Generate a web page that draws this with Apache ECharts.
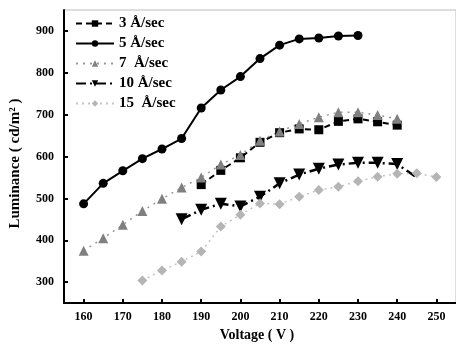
<!DOCTYPE html>
<html>
<head>
<meta charset="utf-8">
<script src="https://cdn.jsdelivr.net/npm/echarts@6/dist/echarts.min.js"></script>
<style>
  html, body {margin: 0; padding: 0; background: #fff;}
  #chart {width: 456px; height: 347px;}
</style>
</head>
<body>
<div id="chart"></div>
<script>
// tick labels
var xTicks = [160, 170, 180, 190, 200, 210, 220, 230, 240, 250];
var yTicks = [300, 400, 500, 600, 700, 800, 900];

// series names
var names = ['3 Å/sec', '5 Å/sec', '7  Å/sec', '10 Å/sec', '15  Å/sec'];

// voltages (V) and luminance (cd/m2) per deposition rate
var volt3 = [190, 195, 200, 205, 210, 215, 220, 225, 230, 235, 240];
var lum3 = [533, 567, 597, 634, 657, 666, 664, 684, 690, 683, 675];

var volt5 = [160, 165, 170, 175, 180, 185, 190, 195, 200, 205, 210, 215, 220, 225, 230];
var lum5 = [487, 536, 566, 595, 618, 643, 716, 759, 791, 834, 866, 881, 883, 888, 889];

var volt7 = [160, 165, 170, 175, 180, 185, 190, 195, 200, 205, 210, 215, 220, 225, 230, 235, 240];
var lum7 = [375, 405, 437, 470, 499, 526, 550, 581, 604, 638, 660, 678, 694, 706, 706, 699, 690];

var volt10 = [185, 190, 195, 200, 205, 210, 215, 220, 225, 230, 235, 240, 245];
var lum10 = [450, 473, 487, 481, 504, 536, 557, 571, 581, 585, 585, 582, 550];

var volt15 = [175, 180, 185, 190, 195, 200, 205, 210, 215, 220, 225, 230, 235, 240, 245, 250];
var lum15 = [304, 328, 349, 373, 433, 461, 488, 486, 504, 520, 528, 541, 552, 559, 560, 551];

function pairs(xs, ys) {
  return xs.map(function (x, i) { return [x, ys[i]]; });
}

var font = 'Liberation Serif';

var chart = echarts.init(document.getElementById('chart'));
chart.setOption({
  animation: false,
  backgroundColor: '#fff',
  textStyle: {fontFamily: font},
  grid: {
    left: 62, top: 10, width: 397, height: 296,
    show: true, borderColor: '#bbb', borderWidth: 1
  },
  legend: {
    orient: 'vertical',
    left: 70, top: 11,
    itemWidth: 38, itemHeight: 8, itemGap: 5,
    textStyle: {fontFamily: font, fontWeight: 'bold', fontSize: 15, color: '#000'},
    data: names
  },
  xAxis: {
    type: 'value',
    min: 155, max: 255,
    name: 'Voltage ( V )',
    nameLocation: 'middle',
    nameGap: 20,
    nameTextStyle: {fontFamily: font, fontWeight: 'bold', fontSize: 14, color: '#000',
      padding: [0, 0, 0, -6]},
    axisLine: {lineStyle: {color: '#000', width: 2}},
    axisTick: {inside: true, length: 4, lineStyle: {color: '#000', width: 2}, customValues: xTicks},
    axisLabel: {fontFamily: font, fontWeight: 'bold', fontSize: 12, color: '#000', margin: 8, customValues: xTicks},
    splitLine: {show: false}
  },
  yAxis: {
    type: 'value',
    min: 250, max: 950,
    name: 'Luminance ( cd/m² )',
    nameLocation: 'middle',
    nameGap: 41,
    nameTextStyle: {fontFamily: font, fontWeight: 'bold', fontSize: 15, color: '#000',
      padding: [0, 0, 0, -14]},
    axisLine: {show: true, lineStyle: {color: '#000', width: 2}},
    axisTick: {show: true, inside: true, length: 4, lineStyle: {color: '#000', width: 2}, customValues: yTicks},
    axisLabel: {fontFamily: font, fontWeight: 'bold', fontSize: 12, color: '#000', margin: 10, customValues: yTicks},
    splitLine: {show: false}
  },
  series: [
    {
      name: names[0], type: 'line', data: pairs(volt3, lum3),
      symbol: 'rect', symbolSize: 9,
      itemStyle: {color: '#000'},
      lineStyle: {color: '#000', width: 2, type: [6, 4]}
    },
    {
      name: names[1], type: 'line', data: pairs(volt5, lum5),
      symbol: 'circle', symbolSize: 9,
      itemStyle: {color: '#000'},
      lineStyle: {color: '#000', width: 2}
    },
    {
      name: names[2], type: 'line', data: pairs(volt7, lum7),
      symbol: 'triangle', symbolSize: 10,
      itemStyle: {color: '#808080'},
      lineStyle: {color: '#999', width: 1.5, type: [2, 5]}
    },
    {
      name: names[3], type: 'line',
      data: pairs(volt10, lum10).map(function (p, i) {
        return i === volt10.length - 1 ? {value: p, symbol: 'none'} : p;
      }),
      symbol: 'triangle', symbolRotate: 180, symbolSize: 12,
      itemStyle: {color: '#000'},
      lineStyle: {color: '#000', width: 2.5, type: [10, 4, 2, 4]}
    },
    {
      name: names[4], type: 'line', data: pairs(volt15, lum15),
      symbol: 'diamond', symbolSize: 10,
      itemStyle: {color: '#b5b5b5'},
      lineStyle: {color: '#c4c4c4', width: 1.5, type: [2, 4]}
    }
  ]
});
</script>
</body>
</html>
